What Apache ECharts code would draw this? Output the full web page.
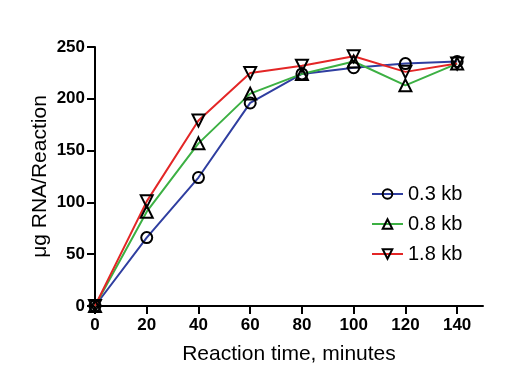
<!DOCTYPE html>
<html><head><meta charset="utf-8">
<script src="https://cdn.jsdelivr.net/npm/echarts@6/dist/echarts.min.js"></script>
<style>html,body{margin:0;padding:0;background:#fff}#c{width:532px;height:389px}</style>
</head><body><div id="c"></div>
<script>
const times = [0, 20, 40, 60, 80, 100, 120, 140];
const kb03 = [0, 66, 124, 196, 224, 230, 234, 236];
const kb08 = [0, 91, 157, 205, 224, 236, 213, 234];
const kb18 = [0, 101, 179, 225, 232, 241, 226, 234];
const xTicks = [0, 20, 40, 60, 80, 100, 120, 140];
const yTicks = [0, 50, 100, 150, 200, 250];
const names = ['0.3 kb', '0.8 kb', '1.8 kb'];

const font = 'Liberation Sans, Arial, sans-serif';
function mk(name, vals, color, symbol, size, rot) {
  return {
    name, type: 'line', data: times.map((t, i) => [t, vals[i]]),
    symbol, symbolSize: size, symbolRotate: rot,
    lineStyle: {color, width: 2},
    itemStyle: {color: 'rgba(255,255,255,0)', borderColor: '#000', borderWidth: 2},
    emphasis: {disabled: true}
  };
}
const chart = echarts.init(document.getElementById('c'));
chart.setOption({
  animation: false,
  grid: {left: 95, right: 49, top: 47, bottom: 83, containLabel: false},
  legend: {
    orient: 'vertical', left: 366, top: 179, itemWidth: 31, itemHeight: 12, itemGap: 10,
    textStyle: {fontFamily: font, fontSize: 20, color: '#000'},
    data: names
  },
  xAxis: {
    type: 'value', min: 0, max: 150,
    name: 'Reaction time, minutes', nameLocation: 'middle', nameGap: 38,
    nameTextStyle: {fontFamily: font, fontSize: 21, color: '#000'},
    axisLine: {lineStyle: {color: '#000', width: 2}},
    axisTick: {show: true, length: 8, lineStyle: {color: '#000', width: 2}, customValues: xTicks},
    axisLabel: {fontFamily: font, fontSize: 17, fontWeight: 'bold', color: '#000', margin: 11, customValues: xTicks},
    splitLine: {show: false}
  },
  yAxis: {
    type: 'value', min: 0, max: 250, interval: 50,
    name: 'μg RNA/Reaction', nameLocation: 'middle', nameGap: 44, nameMoveOverlap: false,
    nameTextStyle: {fontFamily: font, fontSize: 21, color: '#000'},
    axisLine: {show: true, lineStyle: {color: '#000', width: 2}},
    axisTick: {show: true, length: 8, lineStyle: {color: '#000', width: 2}, customValues: yTicks},
    axisLabel: {fontFamily: font, fontSize: 17, fontWeight: 'bold', color: '#000', margin: 10, customValues: yTicks},
    splitLine: {show: false}
  },
  series: [
    mk(names[0], kb03, '#2f3ea0', 'circle', 11, 0),
    mk(names[1], kb08, '#3cb043', 'triangle', 12, 0),
    mk(names[2], kb18, '#e32626', 'triangle', 12, 180)
  ]
});
</script></body></html>
